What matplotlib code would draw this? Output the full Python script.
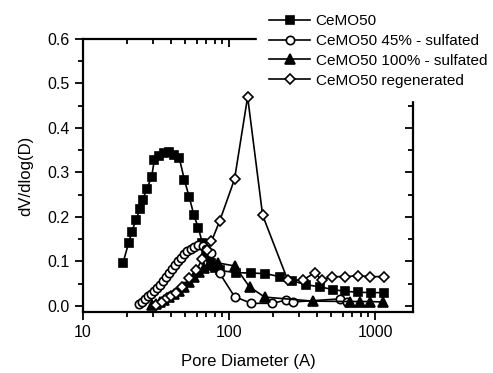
import matplotlib
matplotlib.use("Agg")
import matplotlib.pyplot as plt
from matplotlib.ticker import LogLocator, NullFormatter, MultipleLocator, FixedLocator

plt.rcParams["font.family"] = ["Liberation Sans", "DejaVu Sans"]

# CeMO50
sq_d = [18.8, 20.5, 21.6, 23.0, 24.5, 25.6, 27.4, 29.5, 30.8, 33.3, 36.0, 39.0, 42.2, 45.7,
        49.5, 53.5, 57.5, 61.7, 65.8, 70.0, 74.7, 80.8, 86.1, 110.9, 140.5, 175.4, 222.4,
        268.9, 335.7, 418.8, 514.4, 622.1, 764.2, 938.7, 1153]
sq_v = [0.097, 0.141, 0.167, 0.193, 0.217, 0.238, 0.264, 0.290, 0.328, 0.336, 0.343, 0.345,
        0.339, 0.332, 0.283, 0.244, 0.204, 0.175, 0.141, 0.112, 0.096, 0.085, 0.080, 0.075,
        0.074, 0.073, 0.066, 0.057, 0.048, 0.043, 0.037, 0.033, 0.031, 0.030, 0.030]

# CeMO50 45% - sulfated
ci_d = [24.3, 25.4, 26.7, 28.0, 29.3, 30.8, 32.3, 33.8, 35.5, 37.2, 39.0, 40.9, 42.9, 45.0,
        47.2, 49.5, 51.9, 55.0, 57.9, 61.7, 66.1, 70.0, 75.5, 86.1, 109.1, 142.1, 198.2,
        244.5, 273.2, 574.9, 642.2]
ci_v = [0.005, 0.010, 0.016, 0.022, 0.028, 0.034, 0.040, 0.048, 0.056, 0.065, 0.074, 0.083,
        0.092, 0.100, 0.108, 0.116, 0.123, 0.128, 0.133, 0.136, 0.134, 0.128, 0.118, 0.074,
        0.021, 0.006, 0.006, 0.013, 0.009, 0.016, 0.008]

# CeMO50 100% - sulfated
tr_d = [29.8, 31.8, 33.8, 36.0, 39.0, 42.2, 45.7, 49.5, 53.5, 57.9, 62.7, 67.9, 73.5, 83.4,
        109.1, 138.3, 175.4, 374.8, 673.3, 788.8, 923.9, 1135]
tr_v = [0.002, 0.005, 0.009, 0.013, 0.020, 0.026, 0.034, 0.043, 0.054, 0.065, 0.076, 0.086,
        0.093, 0.097, 0.090, 0.043, 0.020, 0.011, 0.010, 0.010, 0.010, 0.009]

# CeMO50 regenerated
di_d = [31.8, 34.9, 37.8, 40.3, 43.6, 47.9, 53.5, 59.8, 65.8, 71.2, 75.8, 86.1, 109.1, 134.1,
        169.9, 252.5, 320.0, 386.9, 432.2, 506.4, 622.1, 764.2, 923.9, 1153]
di_v = [0.002, 0.008, 0.017, 0.023, 0.030, 0.043, 0.062, 0.082, 0.105, 0.125, 0.145, 0.190,
        0.285, 0.470, 0.204, 0.058, 0.058, 0.075, 0.058, 0.066, 0.066, 0.068, 0.066, 0.066]

fig = plt.figure(figsize=(4.93, 3.73), dpi=100)
ax = fig.add_axes([83 / 493, 1 - 312 / 373, 330 / 493, 273 / 373])

kw = dict(color="black", linewidth=1.2, markeredgewidth=1.2, clip_on=False)
ax.plot(sq_d, sq_v, marker="s", markersize=6, markerfacecolor="black", label="CeMO50", **kw)
ax.plot(ci_d, ci_v, marker="o", markersize=6, markerfacecolor="white",
        label="CeMO50 45% - sulfated", **kw)
ax.plot(tr_d, tr_v, marker="^", markersize=6.5, markerfacecolor="black",
        label="CeMO50 100% - sulfated", **kw)
ax.plot(di_d, di_v, marker="D", markersize=5.5, markerfacecolor="white",
        label="CeMO50 regenerated", **kw)

ax.set_xscale("log")
ax.set_xlim(10, 1820)
ax.set_ylim(-0.0135, 0.6)
ax.yaxis.set_major_locator(MultipleLocator(0.1))
ax.yaxis.set_minor_locator(MultipleLocator(0.05))
ax.xaxis.set_major_locator(FixedLocator([10, 100, 1000]))
ax.xaxis.set_major_formatter(matplotlib.ticker.FixedFormatter(["10", "100", "1000"]))
ax.xaxis.set_minor_locator(LogLocator(base=10, subs=range(2, 10)))
ax.xaxis.set_minor_formatter(NullFormatter())
ax.yaxis.set_major_formatter(matplotlib.ticker.FormatStrFormatter("%.1f"))

for s in ax.spines.values():
    s.set_linewidth(1.6)
ax.tick_params(which="both", direction="out", top=False, right=False, width=1.3, labelsize=11.5)
ax.tick_params(which="major", length=6)
ax.tick_params(which="minor", length=3.5)

# mirrored ticks pointing inward on top and right
top = ax.secondary_xaxis("top")
top.xaxis.set_major_locator(FixedLocator([10, 100, 1000]))
top.xaxis.set_minor_locator(LogLocator(base=10, subs=range(2, 10)))
top.tick_params(which="both", direction="in", labeltop=False, width=1.3)
top.tick_params(which="major", length=6)
top.tick_params(which="minor", length=3.5)
top.spines["top"].set_visible(False)
right = ax.secondary_yaxis("right")
right.yaxis.set_major_locator(MultipleLocator(0.1))
right.yaxis.set_minor_locator(MultipleLocator(0.05))
right.tick_params(which="both", direction="in", labelright=False, width=1.3)
right.tick_params(which="major", length=6)
right.tick_params(which="minor", length=3.5)
right.spines["right"].set_visible(False)

ax.set_xlabel("Pore Diameter (A)", fontsize=12, labelpad=10)
ax.set_ylabel("dV/dlog(D)", fontsize=12, labelpad=10)

leg = fig.legend(loc="upper left", bbox_to_anchor=(257 / 493, 1 - 2 / 373), fontsize=11,
                 handlelength=2.7, handletextpad=0.33, labelspacing=0.38, borderpad=0.8,
                 frameon=True, fancybox=False, borderaxespad=0)
leg.get_frame().set_edgecolor("white")
leg.get_frame().set_facecolor("white")
leg.get_frame().set_alpha(1.0)
leg.set_zorder(10)

fig.savefig("out.png", dpi=100)
